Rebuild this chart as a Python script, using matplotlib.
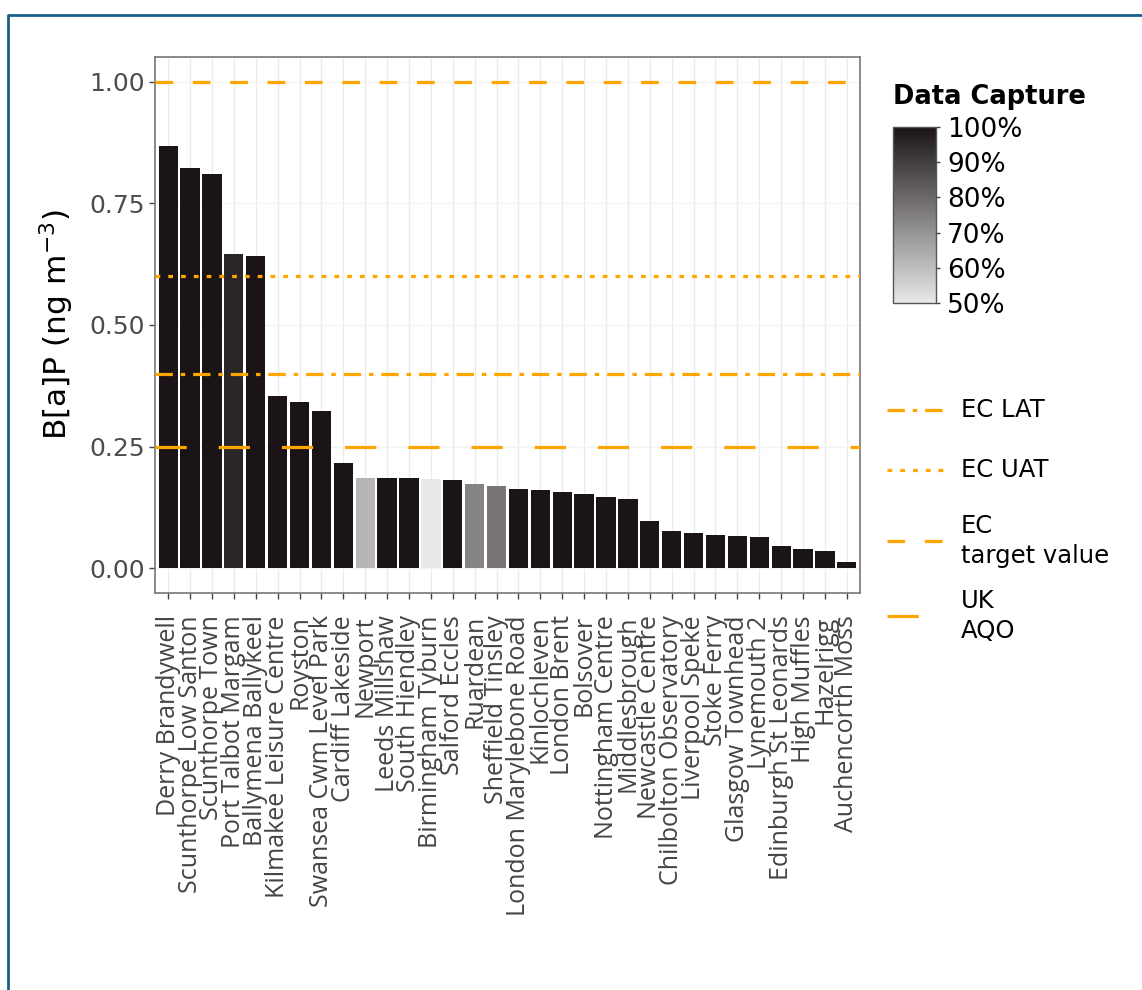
import numpy as np
import matplotlib
matplotlib.use("Agg")
import matplotlib.pyplot as plt
from matplotlib.colors import LinearSegmentedColormap, Normalize
from matplotlib.lines import Line2D
from matplotlib.cm import ScalarMappable

sites = [
    "Derry Brandywell", "Scunthorpe Low Santon", "Scunthorpe Town",
    "Port Talbot Margam", "Ballymena Ballykeel", "Kilmakee Leisure Centre",
    "Royston", "Swansea Cwm Level Park", "Cardiff Lakeside", "Newport",
    "Leeds Millshaw", "South Hiendley", "Birmingham Tyburn", "Salford Eccles",
    "Ruardean", "Sheffield Tinsley", "London Marylebone Road", "Kinlochleven",
    "London Brent", "Bolsover", "Nottingham Centre", "Middlesbrough",
    "Newcastle Centre", "Chilbolton Observatory", "Liverpool Speke",
    "Stoke Ferry", "Glasgow Townhead", "Lynemouth 2", "Edinburgh St Leonards",
    "High Muffles", "Hazelrigg", "Auchencorth Moss",
]
bap = [
    0.867, 0.822, 0.811, 0.646, 0.641, 0.353, 0.341, 0.324, 0.216, 0.185,
    0.185, 0.185, 0.183, 0.181, 0.173, 0.168, 0.162, 0.160, 0.157, 0.153,
    0.146, 0.143, 0.098, 0.077, 0.072, 0.068, 0.066, 0.065, 0.046, 0.039,
    0.035, 0.012,
]
capture = [
    1.00, 1.00, 1.00, 0.96, 1.00, 1.00, 1.00, 1.00, 1.00, 0.62,
    1.00, 1.00, 0.50, 1.00, 0.74, 0.77, 1.00, 1.00, 1.00, 1.00,
    1.00, 1.00, 1.00, 1.00, 1.00, 1.00, 1.00, 1.00, 1.00, 1.00,
    1.00, 1.00,
]

# reference levels
lat_value = 0.40
uat_value = 0.60
target_value = 1.00
aqo_value = 0.25

orange = "#FFA500"
W, H = 1142, 990

plt.rcParams["font.family"] = ["DejaVu Sans"]
plt.rcParams["lines.scale_dashes"] = False

cmap = LinearSegmentedColormap.from_list("capture", ["#e8e8e8", "#1a1416"])
norm = Normalize(vmin=0.5, vmax=1.0)

fig = plt.figure(figsize=(W / 100, H / 100), dpi=100)


def fx(px):
    return px / W


def fy(py):
    return 1 - py / H


ax = fig.add_axes([fx(155), fy(593), fx(860) - fx(155), fy(57) - fy(593)])

x = np.arange(len(sites))
ax.bar(x, bap, width=0.88, color=cmap(norm(np.array(capture))), zorder=2)

lw = 2.3
ax.axhline(target_value, color=orange, lw=lw, dashes=(12.7, 14.2), zorder=3)
ax.axhline(uat_value, color=orange, lw=lw, dashes=(3.4, 5.8), zorder=3)
ax.axhline(lat_value, color=orange, lw=lw, dashes=(12.5, 5.7, 3.2, 5.7), zorder=3)
ax.axhline(aqo_value, color=orange, lw=lw, dashes=(22.5, 23.0), zorder=3)

ax.set_xlim(-0.6, len(sites) - 0.4)
ax.set_ylim(-0.051, 1.051)
yt = [0, 0.25, 0.5, 0.75, 1.0]
ax.set_yticks(yt)
ax.set_yticklabels(["%.2f" % v for v in yt])
ax.set_xticks(x)
ax.set_xticklabels(sites, rotation=90, fontsize=18, family="Open Sans", color="#444444")
ax.tick_params(axis="y", labelsize=18, labelcolor="#4d4d4d", length=4, width=1, color="#444444", pad=3)
ax.tick_params(axis="x", length=4, width=1, color="#444444", pad=12)
ax.grid(axis="x", color="#ebebeb", lw=1, zorder=0)
ax.grid(axis="y", color="#f3f3f3", lw=1, zorder=0)
ax.set_axisbelow(True)
for s in ax.spines.values():
    s.set_color("#777777")
    s.set_linewidth(1.2)
ax.set_ylabel("B[a]P (ng m$^{-3}$)", fontsize=22.5, labelpad=10)

# colour bar for data capture
cax = fig.add_axes([fx(893), fy(303), fx(936) - fx(893), fy(127) - fy(303)])
sm = ScalarMappable(norm=norm, cmap=cmap)
cb = fig.colorbar(sm, cax=cax)
cb.set_ticks([0.5, 0.6, 0.7, 0.8, 0.9, 1.0])
cb.set_ticklabels(["50%", "60%", "70%", "80%", "90%", "100%"])
cb.ax.tick_params(labelsize=19, length=3, width=1, color="#444444", pad=5)
cb.outline.set_edgecolor("#555555")
cb.outline.set_linewidth(1)
fig.text(fx(893), fy(97), "Data Capture", fontsize=18.5, fontweight="bold",
         ha="left", va="center")

# legend for reference lines
entries = [
    (410, (12.5, 5.7, 3.2, 5.7), "EC LAT"),
    (470, (3.4, 5.8), "EC UAT"),
    (541, (12.7, 14.2), "EC\ntarget value"),
    (616, (22.5, 23.0), "UK\nAQO"),
]
for py, dash, label in entries:
    fig.add_artist(Line2D([fx(887), fx(944)], [fy(py), fy(py)], color=orange,
                          lw=lw, dashes=dash, transform=fig.transFigure))
    fig.text(fx(961), fy(py), label, fontsize=17.5, ha="left", va="center",
             linespacing=1.35)

# outer frame
fig.add_artist(Line2D([fx(8), fx(8), fx(W)], [0, fy(15), fy(15)], color="#1b5e8a",
                      lw=2, transform=fig.transFigure))

fig.savefig("out.png", dpi=100)
